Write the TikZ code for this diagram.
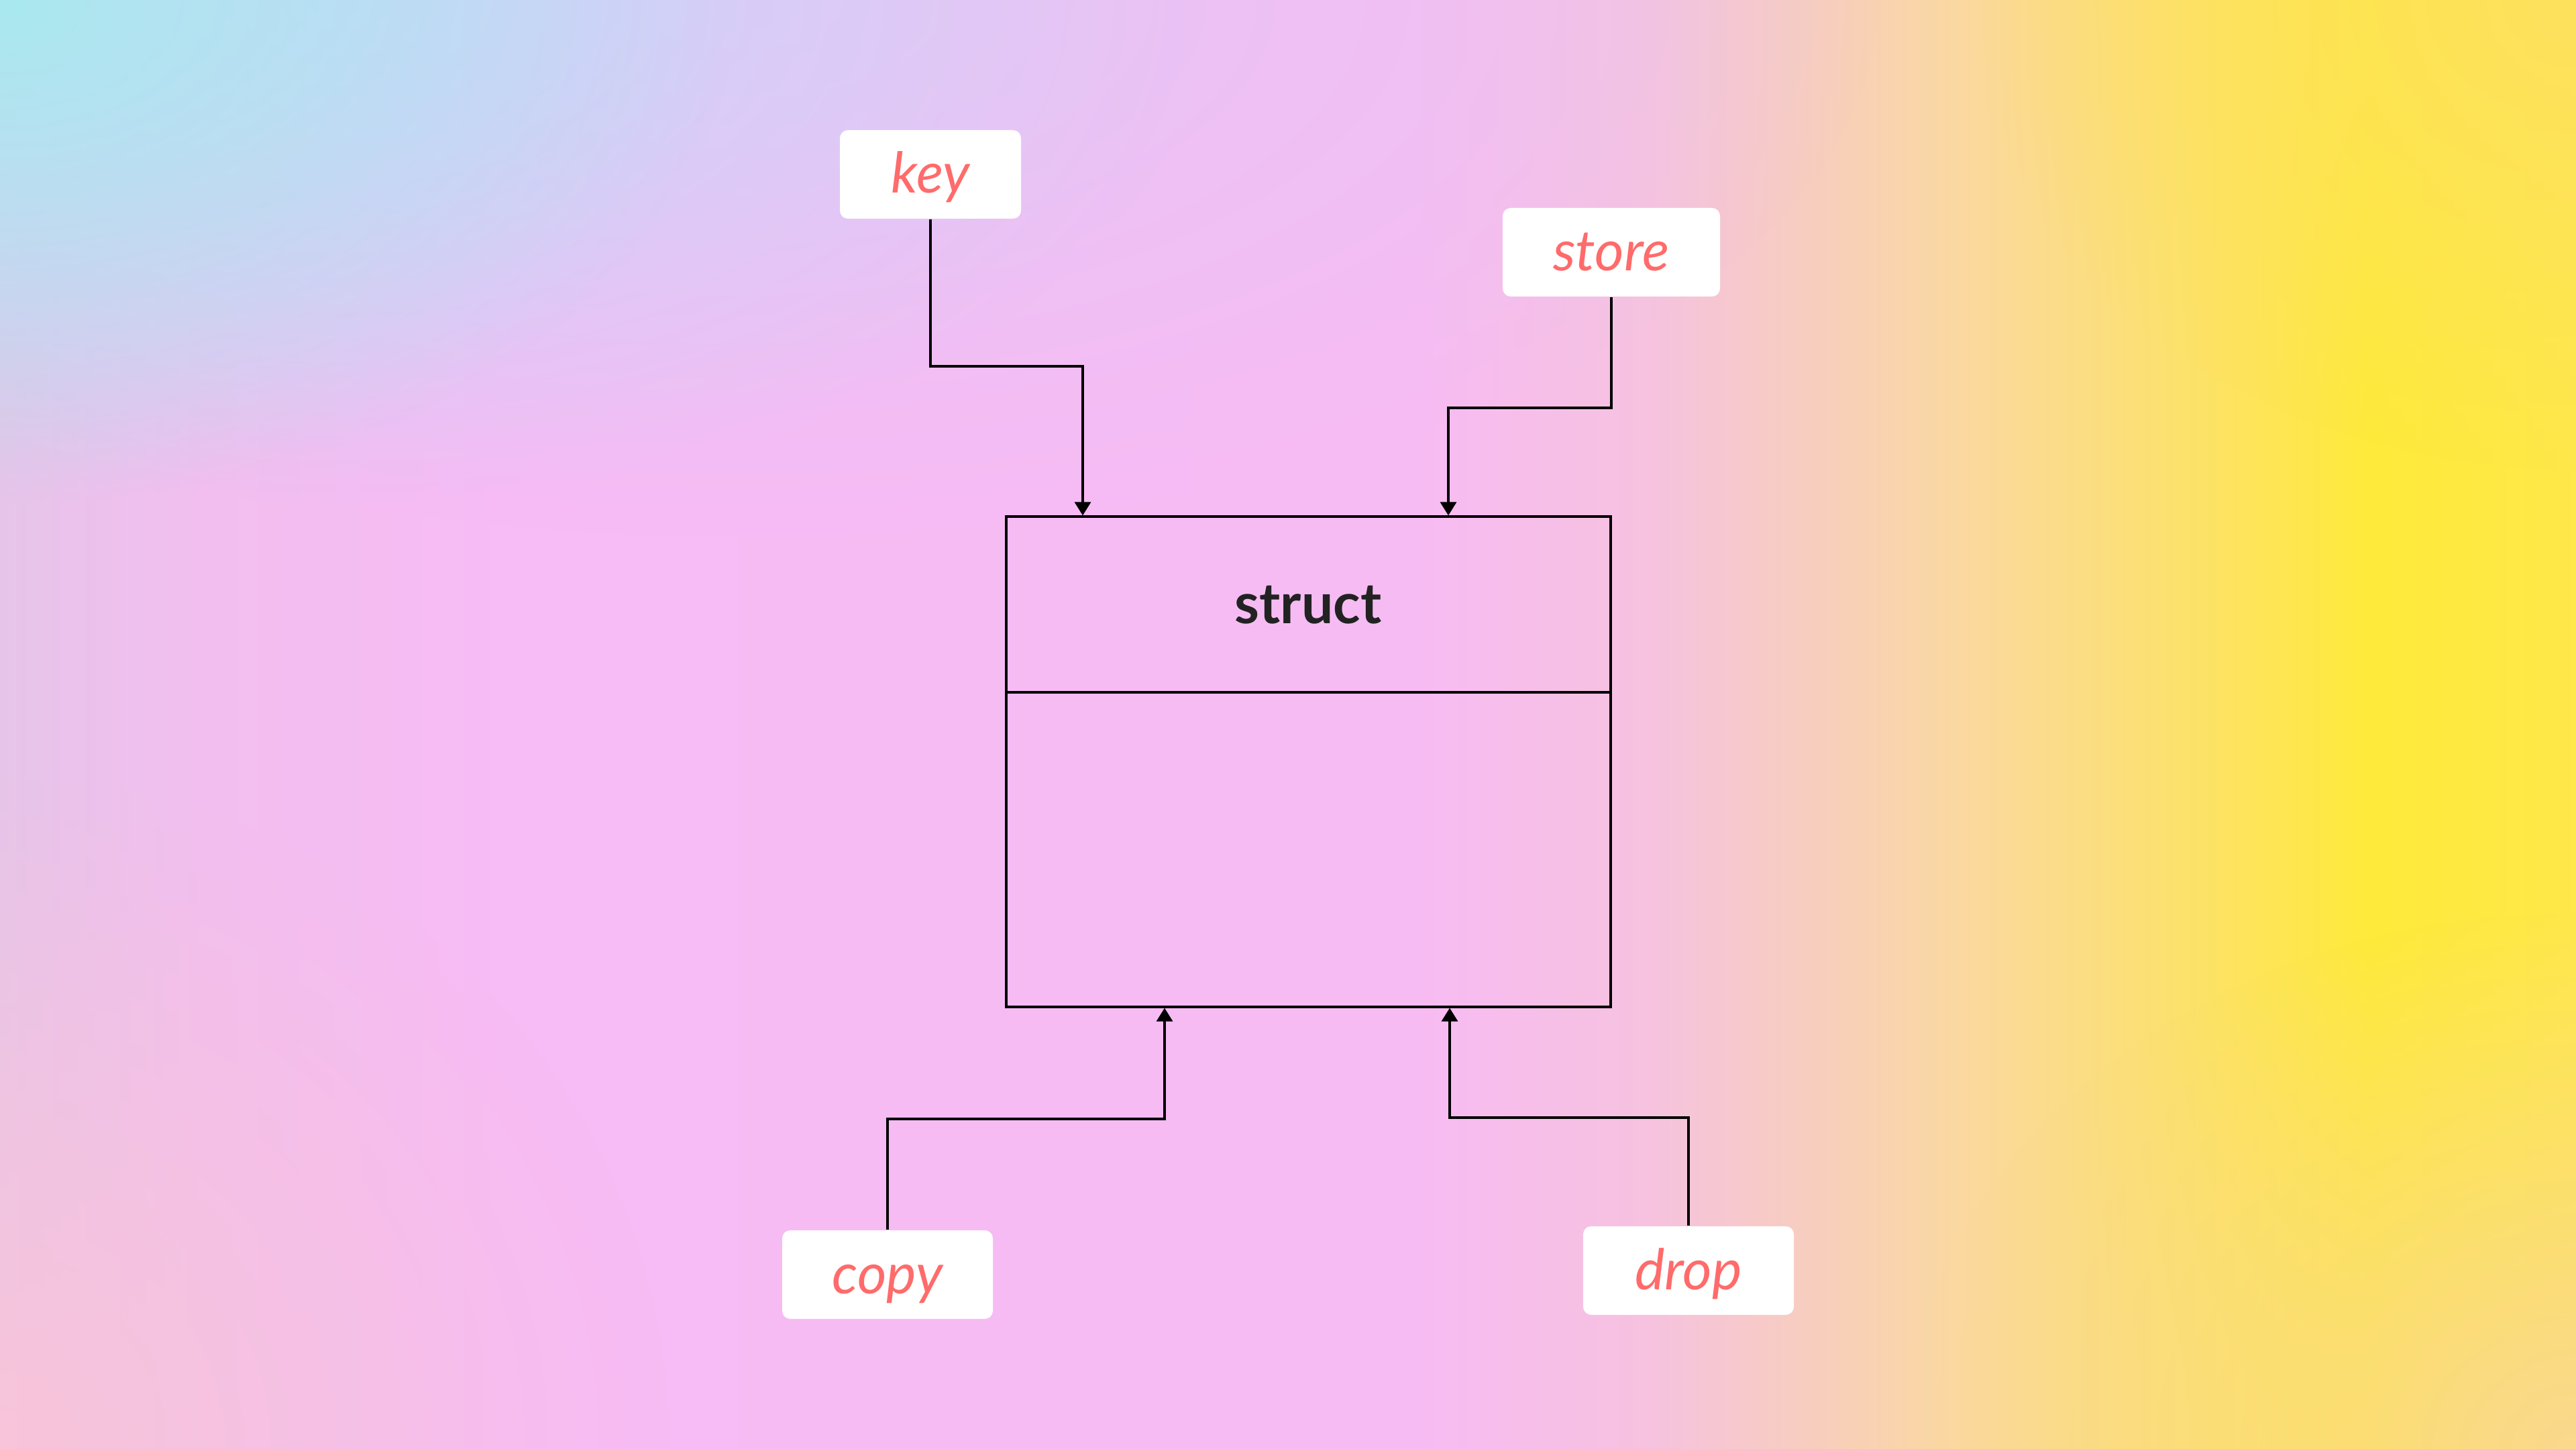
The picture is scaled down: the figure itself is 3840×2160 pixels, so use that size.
\documentclass[tikz,border=0pt]{standalone}
\usepackage{fontspec}
\setmainfont{Lato}
\usetikzlibrary{arrows.meta,fadings}
\definecolor{coral}{HTML}{FF6B6B}
\definecolor{titlec}{HTML}{222222}
\definecolor{b0}{HTML}{E6C4E9}
\definecolor{b1}{HTML}{F2BEEF}
\definecolor{b2}{HTML}{F7BBF5}
\definecolor{b3}{HTML}{F7BBF3}
\definecolor{b4}{HTML}{F6C2DF}
\definecolor{b5}{HTML}{F7CDC0}
\definecolor{b6}{HTML}{FAD8A0}
\definecolor{b7}{HTML}{FCE070}
\definecolor{b8}{HTML}{FEEA3A}
\definecolor{b9}{HTML}{FEE84A}
\definecolor{tlcyan}{HTML}{A9E9EF}
\definecolor{tlblue}{HTML}{CCD4FA}
\definecolor{toplav}{HTML}{E6C6F4}
\definecolor{blpink}{HTML}{F8C4DA}
\definecolor{brpeach}{HTML}{FAD88E}
\definecolor{tryel}{HTML}{FDE15E}
\pgfdeclarehorizontalshading{bgshade}{100bp}{color(0bp)=(b0); color(25bp)=(b0); color(29bp)=(b1); color(35bp)=(b2); color(52.5bp)=(b3); color(57bp)=(b4); color(60bp)=(b5); color(63bp)=(b6); color(67bp)=(b7); color(71bp)=(b8); color(75bp)=(b9); color(100bp)=(b9)}
\tikzfading[name=radfade, inner color=transparent!0, outer color=transparent!100]
\tikzset{
  lbl/.style={rounded corners=3pt, fill=white, minimum height=33pt, inner sep=0pt,
    text=coral, font=\itshape\fontsize{21}{25}\selectfont, text height=16pt, text depth=2pt},
  structbox/.style={draw=black, line width=0.8pt, inner sep=0pt},
  titletext/.style={text=titlec, font=\bfseries\fontsize{21}{25}\selectfont, text height=16pt, text depth=2pt, inner sep=0pt},
  arr/.style={draw=black, line width=0.8pt, -{Triangle[length=5pt,width=6pt]}},
  divline/.style={draw=black, line width=0.8pt}
}
\begin{document}
\begin{tikzpicture}[x=0.25pt,y=-0.25pt]
\useasboundingbox (0,0) rectangle (3840,2160);
\begin{scope}
\clip (0,0) rectangle (3840,2160);
\shade[shading=bgshade] (0,0) rectangle (3840,2160);
\fill[toplav, path fading=radfade] (1100,0) ellipse [x radius=1700, y radius=800];
\fill[tlblue, path fading=radfade] (500,0) ellipse [x radius=1300, y radius=750];
\fill[tlcyan, path fading=radfade] (0,0) ellipse [x radius=1100, y radius=750];
\fill[blpink, path fading=radfade] (0,2160) ellipse [x radius=1000, y radius=1000];
\fill[brpeach, path fading=radfade] (3840,2160) ellipse [x radius=1000, y radius=800];
\fill[tryel, path fading=radfade] (3840,0) ellipse [x radius=900, y radius=700];
\end{scope}

\node[lbl, minimum width=67.5pt] (key) at (1387,260) {key};
\node[lbl, minimum width=81pt] (store) at (2402,376) {store};
\node[lbl, minimum width=78.5pt] (copy) at (1323,1900) {copy};
\node[lbl, minimum width=78.5pt] (drop) at (2517,1894) {drop};

\node[structbox, minimum width=225.25pt, minimum height=182.75pt] (struct) at (1950.5,1135.5) {};
\coordinate (div) at (1950,1032);
\draw[divline] (struct.west |- div) -- (struct.east |- div);
\node[titletext] (title) at (1950,901) {struct};

\coordinate (kbend) at (1614,546);
\coordinate (sbend) at (2159,608);
\coordinate (cbend) at (1736,1668);
\coordinate (dbend) at (2161,1666);
\draw[arr] (key.south) |- (kbend) -- (kbend |- struct.north);
\draw[arr] (store.south) |- (sbend) -- (sbend |- struct.north);
\draw[arr] (copy.north) |- (cbend) -- (cbend |- struct.south);
\draw[arr] (drop.north) |- (dbend) -- (dbend |- struct.south);
\end{tikzpicture}
\end{document}
